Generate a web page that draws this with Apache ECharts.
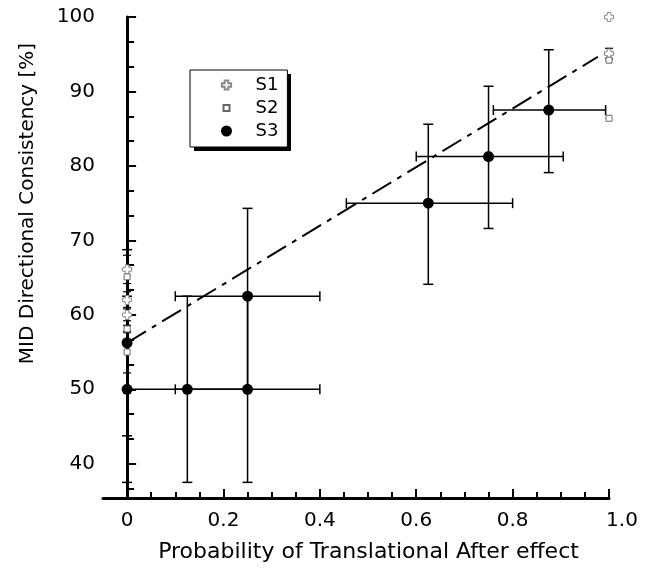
<!DOCTYPE html>
<html>
<head>
<meta charset="utf-8">
<script src="https://cdn.jsdelivr.net/npm/echarts@6/dist/echarts.min.js"></script>
<style>
html,body{margin:0;padding:0;background:#fff;}
#main{width:648px;height:569px;}
</style>
</head>
<body>
<div id="main"></div>
<script>
// S3 mean points with error ranges
var s3X   = [0, 0, 0.125, 0.25, 0.25, 0.625, 0.75, 0.875];
var s3Y   = [50, 56.25, 50, 50, 62.5, 75, 81.25, 87.5];
var s3XLo = [null, null, 0, 0.1, 0.1, 0.455, 0.6, 0.76];
var s3XHi = [null, null, 0.25, 0.4, 0.4, 0.8, 0.905, 0.993];
var s3YLo = [37.5, 43.75, 37.5, 37.5, 50, 64.1, 71.6, 79.1];
var s3YHi = [62.5, 68.75, 62.5, 62.5, 74.3, 85.6, 90.7, 95.6];

// S1
var s1X   = [0, 0, 0, 1, 1];
var s1Y   = [66.1, 62, 60, 100, 95.1];
var s1YLo = [64.2, 61, 59.2, null, 94.4];
var s1YHi = [68, 63.1, 60.8, null, 95.8];

// S2
var s2X   = [0, 0, 0, 1, 1];
var s2Y   = [65.1, 58.1, 55, 94.2, 86.4];
var s2YLo = [null, 57.6, 52.2, null, null];
var s2YHi = [null, 58.6, 57.8, null, null];

// fitted line end points
var fitX = [0, 0.977];
var fitY = [56.25, 94.66];

// ticks
var xMajor = [0, 0.2, 0.4, 0.6, 0.8, 1.0];
var xMinor = [0, 0.05, 0.1, 0.15, 0.2, 0.25, 0.3, 0.35, 0.4, 0.45, 0.5, 0.55, 0.6, 0.65, 0.7, 0.75, 0.8, 0.85, 0.9, 0.95, 1.0];
var yMajor = [40, 50, 60, 70, 80, 90, 100];
var yMinor = [36.67, 43.33, 46.67, 53.33, 56.67, 63.33, 66.67, 73.33, 76.67, 83.33, 86.67, 93.33, 96.67];

var FONT = 'DejaVu Sans';

function pairs(xs, ys){
	var out = [];
	for (var i = 0; i < xs.length; i++) out.push([xs[i], ys[i]]);
	return out;
}

//error bars drawn through the axes
function errSeries(xs, ys, xlo, xhi, ylo, yhi, lw, cap){
	return {
		type:'custom',
		silent:true,
		z:1,
		data:pairs(xs, ys),
		renderItem:function(params, api){
			var i = params.dataIndex;
			var kids = [];
			var st = {stroke:'#000', lineWidth:lw};
			if (ylo && ylo[i] != null){
				var a = api.coord([xs[i], ylo[i]]);
				var b = api.coord([xs[i], yhi[i]]);
				kids.push({type:'line', shape:{x1:a[0], y1:a[1], x2:b[0], y2:b[1]}, style:st});
				kids.push({type:'line', shape:{x1:a[0]-cap, y1:a[1], x2:a[0]+cap, y2:a[1]}, style:st});
				kids.push({type:'line', shape:{x1:b[0]-cap, y1:b[1], x2:b[0]+cap, y2:b[1]}, style:st});
			}
			if (xlo && xlo[i] != null){
				var c = api.coord([xlo[i], ys[i]]);
				var d = api.coord([xhi[i], ys[i]]);
				kids.push({type:'line', shape:{x1:c[0], y1:c[1], x2:d[0], y2:d[1]}, style:st});
				kids.push({type:'line', shape:{x1:c[0], y1:c[1]-cap, x2:c[0], y2:c[1]+cap}, style:st});
				kids.push({type:'line', shape:{x1:d[0], y1:d[1]-cap, x2:d[0], y2:d[1]+cap}, style:st});
			}
			return {type:'group', children:kids};
		}
	};
}

var crossPath = 'path://M3,0 H7 V3 H10 V7 H7 V10 H3 V7 H0 V3 H3 Z';
var squarePath = 'path://M0,0 H10 V10 H0 Z';
// legend icons, with empty margin so they come out smaller
var crossIcon = 'path://M-1,-1 M11,11 M3,0 H7 V3 H10 V7 H7 V10 H3 V7 H0 V3 H3 Z';
var squareIcon = 'path://M0,0 M11,11 M2.5,2.5 H8.5 V8.5 H2.5 Z';

var myChart = echarts.init(document.getElementById('main'), null, {renderer:'canvas'});
option = {
	backgroundColor:'#fff',
	animation:false,
	grid:{left:103, right:39, top:17, bottom:71},
	graphic:[
		{//legend drop shadow
			type:'rect',
			z:3,
			silent:true,
			shape:{x:194, y:74, width:97, height:77},
			style:{fill:'#000'}
		}
	],
	legend:{
		orient:'vertical',
		left:190,
		top:70,
		z:5,
		data:[
			{name:'S1', icon:crossIcon},
			{name:'S2', icon:squareIcon},
			{name:'S3', icon:'circle'}
		],
		itemWidth:48,
		itemHeight:11,
		itemGap:5,
		padding:[6, 9, 7, 30],
		backgroundColor:'#fff',
		borderColor:'#000',
		borderWidth:1,
		borderRadius:0,
		textStyle:{fontFamily:FONT, fontSize:18, color:'#000'}
	},
	xAxis:[
		{
			type:'value',
			min:-0.05,
			max:1.0,
			position:'bottom',
			name:'Probability of Translational After effect',
			nameLocation:'middle',
			nameGap:43,
			nameTextStyle:{fontFamily:FONT, fontSize:22, color:'#000', padding:[0, 0, 0, 25]},
			axisLine:{show:true, lineStyle:{color:'#000', width:3}},
			axisTick:{show:true, inside:true, length:9, lineStyle:{color:'#000', width:2}, customValues:xMajor},
			axisLabel:{
				fontFamily:FONT, fontSize:20, color:'#000', margin:13,
				customValues:xMajor,
				formatter:function(v){
					if (v === 0) return '0';
					if (v === 1) return '{r|1.0}';
					return v.toFixed(1);
				},
				rich:{r:{fontFamily:FONT, fontSize:20, color:'#000', padding:[0, 0, 0, 26]}}
			},
			splitLine:{show:false}
		},
		{
			type:'value',
			min:-0.05,
			max:1.0,
			position:'bottom',
			axisLine:{show:false},
			axisTick:{show:true, inside:true, length:6, lineStyle:{color:'#000', width:2}, customValues:xMinor},
			axisLabel:{show:false},
			splitLine:{show:false}
		}
	],
	yAxis:[
		{
			type:'value',
			min:35.4,
			max:100,
			position:'left',
			name:'MID Directional Consistency [%]',
			nameLocation:'middle',
			nameGap:65,
			nameTextStyle:{fontFamily:FONT, fontSize:20, color:'#000', padding:[0, 0, 0, 108]},
			axisLine:{show:true, lineStyle:{color:'#000', width:3}},
			axisTick:{show:true, inside:true, length:9, lineStyle:{color:'#000', width:2}, customValues:yMajor},
			axisLabel:{fontFamily:FONT, fontSize:20, color:'#000', margin:8, customValues:yMajor},
			splitLine:{show:false}
		},
		{
			type:'value',
			min:35.4,
			max:100,
			position:'left',
			axisLine:{show:false},
			axisTick:{show:true, inside:true, length:7, lineStyle:{color:'#000', width:2}, customValues:yMinor},
			axisLabel:{show:false},
			splitLine:{show:false}
		}
	],
	series:[
		{
			type:'line',
			data:pairs(fitX, fitY),
			symbol:'none',
			silent:true,
			z:1,
			lineStyle:{color:'#000', width:2, type:[22, 7, 5, 7]}
		},
		errSeries(s3X, s3Y, s3XLo, s3XHi, s3YLo, s3YHi, 1.5, 5),
		errSeries(s1X, s1Y, null, null, s1YLo, s1YHi, 1.2, 4),
		errSeries(s2X, s2Y, null, null, s2YLo, s2YHi, 1.2, 4),
		{
			name:'S1',
			type:'scatter',
			data:pairs(s1X, s1Y),
			symbol:crossPath,
			symbolSize:9,
			z:3,
			itemStyle:{color:'#fff', borderColor:'#888', borderWidth:1, opacity:1}
		},
		{
			name:'S2',
			type:'scatter',
			data:pairs(s2X, s2Y),
			symbol:squarePath,
			symbolSize:6,
			z:3,
			itemStyle:{color:'#fff', borderColor:'#666', borderWidth:1, opacity:1}
		},
		{
			name:'S3',
			type:'scatter',
			data:pairs(s3X, s3Y),
			symbol:'circle',
			symbolSize:11,
			z:4,
			itemStyle:{color:'#000', opacity:1}
		}
	]
};
myChart.setOption(option);
</script>
</body>
</html>
